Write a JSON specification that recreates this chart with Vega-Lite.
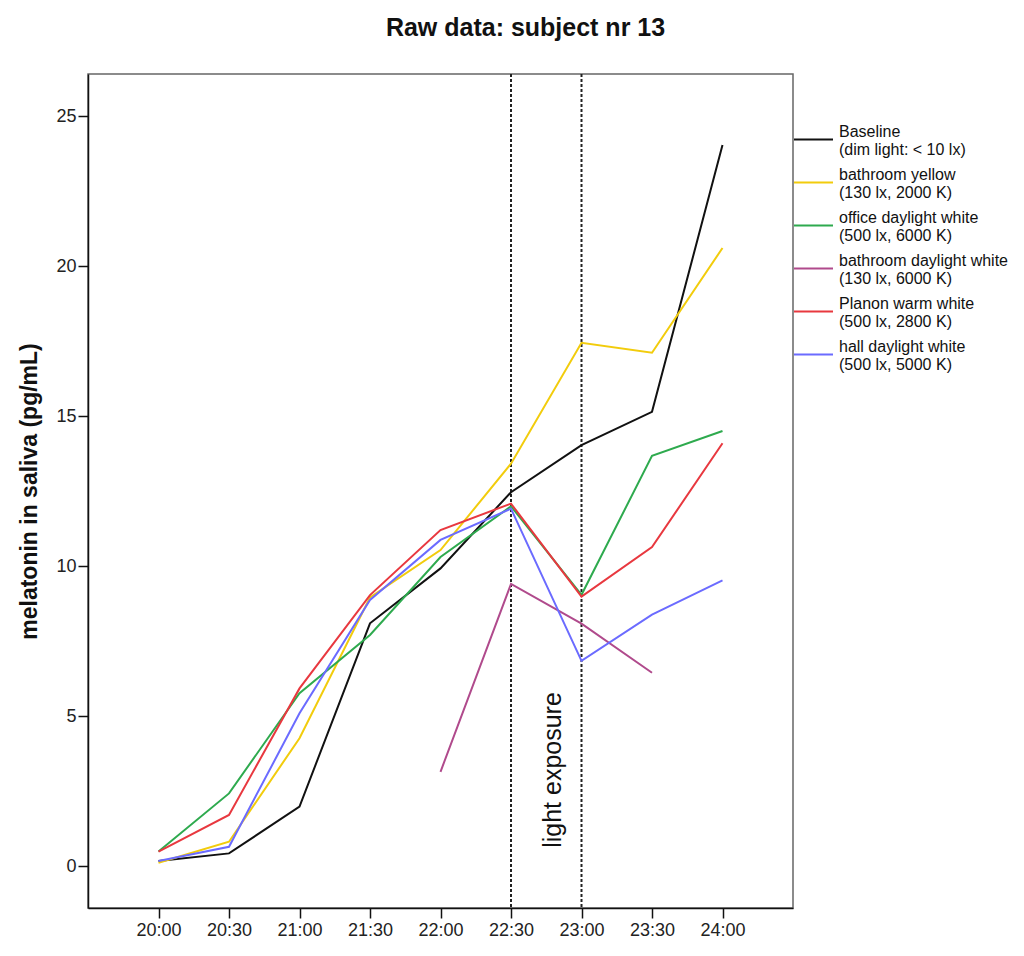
{
  "$schema": "https://vega.github.io/schema/vega-lite/v6.json",
  "width": 705,
  "height": 834,
  "autosize": {"type": "none"},
  "padding": {"left": 88, "top": 74, "right": 231, "bottom": 48},
  "background": "white",
  "title": {"text": "Raw data: subject nr 13", "font": "Liberation Sans", "fontSize": 25, "fontWeight": "bold", "color": "#111", "anchor": "middle", "dx": 85, "baseline": "alphabetic", "offset": 12},
  "config": {
    "font": "Liberation Sans",
    "view": {"stroke": "#666", "strokeWidth": 1.5},
    "axis": {"domainColor": "#111", "domainWidth": 1.5, "tickColor": "#111", "tickWidth": 1.5, "labelColor": "#222", "labelFont": "Liberation Sans", "labelFontSize": 18, "titleFont": "Liberation Sans", "grid": false}
  },
  "datasets": {
    "mel": [
      {"time": "20:00", "series": "Baseline (dim light: < 10 lx)", "value": 0.17},
      {"time": "20:30", "series": "Baseline (dim light: < 10 lx)", "value": 0.42},
      {"time": "21:00", "series": "Baseline (dim light: < 10 lx)", "value": 1.98},
      {"time": "21:30", "series": "Baseline (dim light: < 10 lx)", "value": 8.09},
      {"time": "22:00", "series": "Baseline (dim light: < 10 lx)", "value": 9.92},
      {"time": "22:30", "series": "Baseline (dim light: < 10 lx)", "value": 12.46},
      {"time": "23:00", "series": "Baseline (dim light: < 10 lx)", "value": 14.03},
      {"time": "23:30", "series": "Baseline (dim light: < 10 lx)", "value": 15.14},
      {"time": "24:00", "series": "Baseline (dim light: < 10 lx)", "value": 24.03},
      {"time": "20:00", "series": "bathroom yellow (130 lx, 2000 K)", "value": 0.11},
      {"time": "20:30", "series": "bathroom yellow (130 lx, 2000 K)", "value": 0.81},
      {"time": "21:00", "series": "bathroom yellow (130 lx, 2000 K)", "value": 4.26},
      {"time": "21:30", "series": "bathroom yellow (130 lx, 2000 K)", "value": 8.95},
      {"time": "22:00", "series": "bathroom yellow (130 lx, 2000 K)", "value": 10.53},
      {"time": "22:30", "series": "bathroom yellow (130 lx, 2000 K)", "value": 13.41},
      {"time": "23:00", "series": "bathroom yellow (130 lx, 2000 K)", "value": 17.44},
      {"time": "23:30", "series": "bathroom yellow (130 lx, 2000 K)", "value": 17.11},
      {"time": "24:00", "series": "bathroom yellow (130 lx, 2000 K)", "value": 20.6},
      {"time": "20:00", "series": "office daylight white (500 lx, 6000 K)", "value": 0.48},
      {"time": "20:30", "series": "office daylight white (500 lx, 6000 K)", "value": 2.42},
      {"time": "21:00", "series": "office daylight white (500 lx, 6000 K)", "value": 5.76},
      {"time": "21:30", "series": "office daylight white (500 lx, 6000 K)", "value": 7.7},
      {"time": "22:00", "series": "office daylight white (500 lx, 6000 K)", "value": 10.3},
      {"time": "22:30", "series": "office daylight white (500 lx, 6000 K)", "value": 11.99},
      {"time": "23:00", "series": "office daylight white (500 lx, 6000 K)", "value": 9.04},
      {"time": "23:30", "series": "office daylight white (500 lx, 6000 K)", "value": 13.67},
      {"time": "24:00", "series": "office daylight white (500 lx, 6000 K)", "value": 14.5},
      {"time": "22:00", "series": "bathroom daylight white (130 lx, 6000 K)", "value": 3.14},
      {"time": "22:30", "series": "bathroom daylight white (130 lx, 6000 K)", "value": 9.4},
      {"time": "23:00", "series": "bathroom daylight white (130 lx, 6000 K)", "value": 8.08},
      {"time": "23:30", "series": "bathroom daylight white (130 lx, 6000 K)", "value": 6.44},
      {"time": "20:00", "series": "Planon warm white (500 lx, 2800 K)", "value": 0.48},
      {"time": "20:30", "series": "Planon warm white (500 lx, 2800 K)", "value": 1.7},
      {"time": "21:00", "series": "Planon warm white (500 lx, 2800 K)", "value": 5.92},
      {"time": "21:30", "series": "Planon warm white (500 lx, 2800 K)", "value": 9.03},
      {"time": "22:00", "series": "Planon warm white (500 lx, 2800 K)", "value": 11.2},
      {"time": "22:30", "series": "Planon warm white (500 lx, 2800 K)", "value": 12.08},
      {"time": "23:00", "series": "Planon warm white (500 lx, 2800 K)", "value": 8.98},
      {"time": "23:30", "series": "Planon warm white (500 lx, 2800 K)", "value": 10.63},
      {"time": "24:00", "series": "Planon warm white (500 lx, 2800 K)", "value": 14.09},
      {"time": "20:00", "series": "hall daylight white (500 lx, 5000 K)", "value": 0.17},
      {"time": "20:30", "series": "hall daylight white (500 lx, 5000 K)", "value": 0.64},
      {"time": "21:00", "series": "hall daylight white (500 lx, 5000 K)", "value": 5.09},
      {"time": "21:30", "series": "hall daylight white (500 lx, 5000 K)", "value": 8.87},
      {"time": "22:00", "series": "hall daylight white (500 lx, 5000 K)", "value": 10.87},
      {"time": "22:30", "series": "hall daylight white (500 lx, 5000 K)", "value": 11.91},
      {"time": "23:00", "series": "hall daylight white (500 lx, 5000 K)", "value": 6.84},
      {"time": "23:30", "series": "hall daylight white (500 lx, 5000 K)", "value": 8.38},
      {"time": "24:00", "series": "hall daylight white (500 lx, 5000 K)", "value": 9.52}
    ],
    "exposure": [
      {"time": "22:30", "label": "light exposure", "y": 3.2},
      {"time": "23:00", "label": "", "y": 3.2}
    ]
  },
  "encoding": {
    "x": {"field": "time", "type": "ordinal", "scale": {"type": "point", "padding": 1, "domain": ["20:00", "20:30", "21:00", "21:30", "22:00", "22:30", "23:00", "23:30", "24:00"]},
      "axis": {"title": null, "labelAngle": 0, "tickSize": 10, "labelPadding": 3}}
  },
  "layer": [
    {
      "data": {"name": "exposure"},
      "mark": {"type": "rule", "color": "#222", "strokeWidth": 2, "strokeDash": [3, 2]},
      "encoding": {}
    },
    {
      "data": {"name": "exposure"},
      "transform": [{"filter": "datum.label != ''"}],
      "mark": {"type": "text", "angle": 270, "fontSize": 25, "font": "Liberation Sans", "color": "#111", "align": "center", "baseline": "middle", "dy": 42},
      "encoding": {
        "y": {"field": "y", "type": "quantitative"},
        "text": {"field": "label"}
      }
    },
    {
      "data": {"name": "mel"},
      "mark": {"type": "line", "strokeWidth": 2},
      "encoding": {
        "y": {"field": "value", "type": "quantitative", "scale": {"domain": [-1.4, 26.4], "nice": false, "zero": false},
          "axis": {"title": "melatonin in saliva (pg/mL)", "titleFontSize": 23, "titleFontWeight": "bold", "titleColor": "#111", "values": [0, 5, 10, 15, 20, 25], "tickSize": 10, "labelPadding": 2, "titlePadding": 14}},
        "color": {"field": "series", "type": "nominal",
          "scale": {"domain": ["Baseline (dim light: < 10 lx)", "bathroom yellow (130 lx, 2000 K)", "office daylight white (500 lx, 6000 K)", "bathroom daylight white (130 lx, 6000 K)", "Planon warm white (500 lx, 2800 K)", "hall daylight white (500 lx, 5000 K)"],
            "range": ["#111111", "#f2cc0c", "#2eaa4e", "#b04a8c", "#e8383f", "#6b6bff"]},
          "legend": {"orient": "none", "legendX": 705, "legendY": 45, "title": null, "symbolType": "stroke", "symbolSize": 1521, "symbolStrokeWidth": 2, "labelFontSize": 16, "labelFont": "Liberation Sans", "labelColor": "#111", "labelLimit": 300, "labelOffset": 5, "labelBaseline": "bottom", "rowPadding": 4, "padding": 0,
            "labelExpr": "split(replace(datum.label, ' (', '|('), '|')"}
        }
      }
    }
  ]
}
